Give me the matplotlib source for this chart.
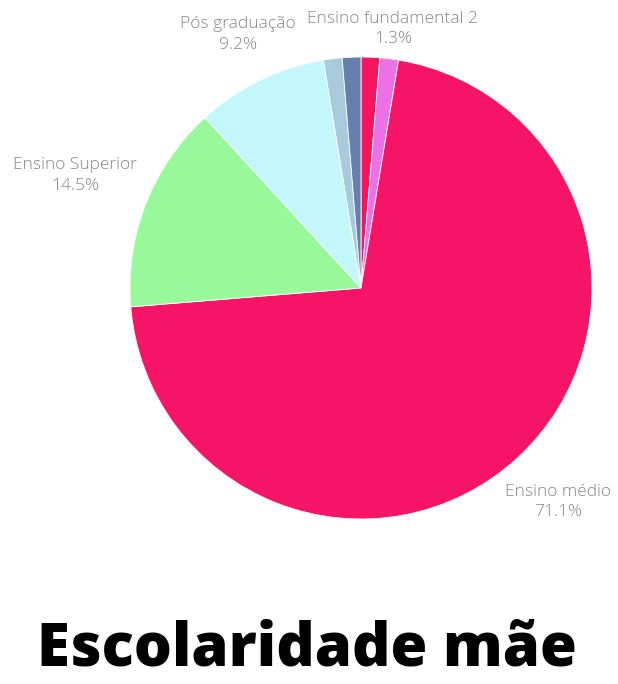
import numpy as np
import matplotlib
matplotlib.use('Agg')
import matplotlib.pyplot as plt

# fatias no sentido horario a partir do topo
categorias = ['Ensino fundamental 1', 'Ensino fundamental 2', 'Ensino médio',
              'Ensino Superior', 'Pós graduação', 'Mestrado', 'Doutorado']
percentuais = [1.3, 1.3, 71.1, 14.5, 9.2, 1.3, 1.3]
cores = ['#f5145f', '#ec70e6', '#f51466', '#98f99a', '#c4f7fb', '#a8cadd', '#6580ad']
rotulados = ['Ensino fundamental 2', 'Ensino médio', 'Ensino Superior', 'Pós graduação']

# distancia radial de cada rotulo (em raios)
dist_rotulo = {'Ensino fundamental 2': 1.13, 'Ensino médio': 1.26,
               'Ensino Superior': 1.33, 'Pós graduação': 1.22}

W, H = 618, 684
fig = plt.figure(figsize=(W / 100, H / 100), dpi=100)
fig.patch.set_facecolor('white')

cx, cy, R = 361, 288, 231
ax = fig.add_axes([(cx - R) / W, (H - cy - R) / H, 2 * R / W, 2 * R / H])

wedges, _ = ax.pie(percentuais, colors=cores, startangle=90, counterclock=False,
                   radius=1, wedgeprops=dict(edgecolor='white', linewidth=0.6))
# pie() mexe nos limites, entao fixa depois
ax.set_xlim(-1, 1)
ax.set_ylim(-1, 1)
ax.set_aspect('equal')
ax.axis('off')

for w, nome, pct in zip(wedges, categorias, percentuais):
    if nome not in rotulados:
        continue
    ang = np.deg2rad((w.theta1 + w.theta2) / 2)
    d = dist_rotulo[nome]
    ax.text(d * np.cos(ang), d * np.sin(ang), f'{nome}\n{pct}%',
            ha='center', va='center', fontsize=12.5, color='#878787',
            family='Open Sans', fontweight='light', linespacing=1.4,
            clip_on=False)

fig.text(307 / W, 1 - 650 / H, 'Escolaridade mãe', ha='center', va='center',
         fontsize=43, fontweight='heavy', family='Open Sans', color='black')

fig.savefig('out.png', dpi=100)
